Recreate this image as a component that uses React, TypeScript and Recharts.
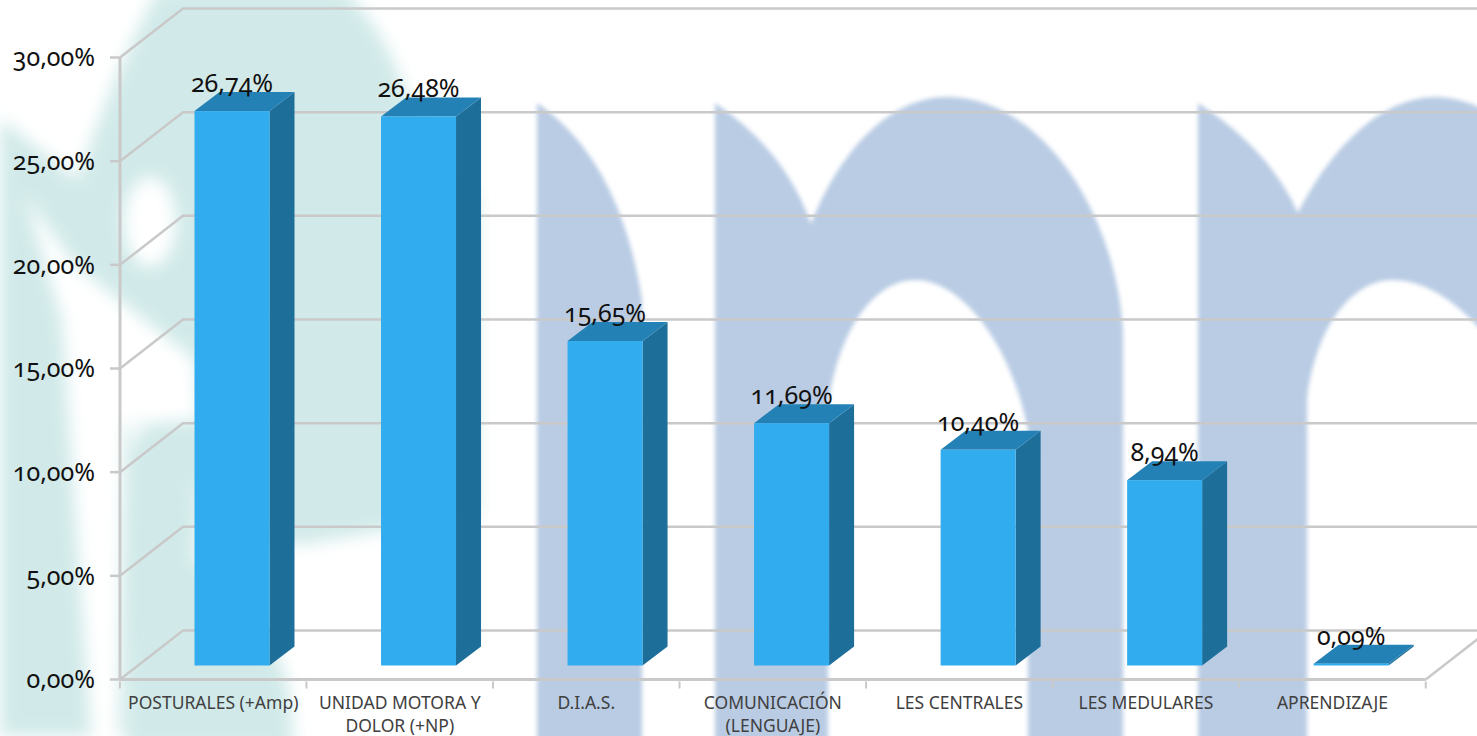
import { Bar, BarChart, CartesianGrid, LabelList, XAxis, YAxis } from "recharts";

const categories = [
  "POSTURALES (+Amp)",
  "UNIDAD MOTORA Y\nDOLOR (+NP)",
  "D.I.A.S.",
  "COMUNICACIÓN\n(LENGUAJE)",
  "LES CENTRALES",
  "LES MEDULARES",
  "APRENDIZAJE",
];
const percentages = [26.74, 26.48, 15.65, 11.69, 10.4, 8.94, 0.09];
const yTicks = [0, 5, 10, 15, 20, 25, 30];

const data = categories.map((name, i) => ({ name, value: percentages[i] }));

const FONT = '"Noto Sans", "Open Sans", sans-serif';
const GRID = "#c9c9c9";
const WALL_DX = 63;
const WALL_DY = -49;
const BAR_DX = 18.5;
const BAR_DY = -14;
const DEPTH_DX = 25;
const DEPTH_DY = -19;

const pct = (v: number) => `${v.toFixed(2).replace(".", ",")}%`;

function Box3D({ x, y, width, height }: any) {
  const l = x + BAR_DX;
  const r = l + width;
  const t = y + BAR_DY;
  const b = t + height;
  return (
    <g>
      <polygon
        points={`${r},${t} ${r + DEPTH_DX},${t + DEPTH_DY} ${r + DEPTH_DX},${b + DEPTH_DY} ${r},${b}`}
        fill="#1e6e9a"
      />
      <polygon
        points={`${l},${t} ${l + DEPTH_DX},${t + DEPTH_DY} ${r + DEPTH_DX},${t + DEPTH_DY} ${r},${t}`}
        fill="#2481b6"
      />
      <rect x={l} y={t} width={width} height={Math.max(height, 1.5)} fill="#31acee" />
    </g>
  );
}

function BarValue({ x, y, width, value }: any) {
  return (
    <text
      x={x + width / 2 + BAR_DX}
      y={y + BAR_DY - 19}
      textAnchor="middle"
      fontFamily={FONT}
      fontSize={25}
      fill="#111"
      style={{ fontVariantNumeric: "oldstyle-nums" }}
    >
      {pct(value)}
    </text>
  );
}

function WallLine({ x1, x2, y1 }: any) {
  return (
    <g stroke={GRID} strokeWidth={2.5} fill="none">
      <polyline points={`${x1},${y1} ${x1 + WALL_DX},${y1 + WALL_DY} ${x2 + WALL_DX},${y1 + WALL_DY}`} />
      {y1 > 600 && <line x1={x2} y1={y1} x2={x2 + WALL_DX} y2={y1 + WALL_DY} />}
    </g>
  );
}

function CategoryTick({ x, y, payload, index }: any) {
  const band = 186.67;
  const lines = String(payload.value).split("\n");
  return (
    <g>
      <line x1={x - band / 2} y1={y - 6} x2={x - band / 2} y2={y + 1} stroke={GRID} strokeWidth={2} />
      {index === categories.length - 1 && (
        <line x1={x + band / 2} y1={y - 6} x2={x + band / 2} y2={y + 1} stroke={GRID} strokeWidth={2} />
      )}
      <text textAnchor="middle" fontFamily={FONT} fontSize={17.5} fill="#404040">
        {lines.map((line, i) => (
          <tspan key={line} x={x} y={y + 21 + i * 23}>
            {line}
          </tspan>
        ))}
      </text>
    </g>
  );
}

function Watermark() {
  return (
    <svg width={1477} height={736} style={{ position: "absolute", left: 0, top: 0 }}>
      <defs>
        <filter id="soft" x="-10%" y="-10%" width="120%" height="120%">
          <feGaussianBlur stdDeviation="8" />
        </filter>
        <filter id="edge" x="-5%" y="-5%" width="110%" height="110%">
          <feGaussianBlur stdDeviation="2" />
        </filter>
      </defs>
      <g fill="#d1eaE9" filter="url(#soft)">
        <path d="M158,-10 L345,-10 Q392,40 405,95 Q440,130 478,200 L478,515 L300,545 L240,530 L190,480 L130,410 L125,736 L0,736 L0,118 L78,180 Q110,80 158,-10Z" />
        <path d="M127,470 Q135,420 165,418 L200,500 L195,560 Q240,590 275,650 Q295,690 293,750 L127,750Z" />
      </g>
      <g fill="#fff" filter="url(#soft)">
        <ellipse cx={150} cy={222} rx={26} ry={45} />
        <path d="M25,195 L75,265 L195,360 L200,420 L125,425 L118,750 L92,750 L62,320Z" />
      </g>
      <g fill="#b9cce4" filter="url(#edge)">
        <path d="M537,103 Q620,160 642,300 L642,750 L537,750Z" />
        <path d="M715,103 Q785,150 811,224 C840,150 890,97 947,97 C1040,97 1115,210 1123,330 L1123,750 L1028,750 L1028,430 C1010,340 960,280 915,280 C870,280 835,340 828,410 L828,750 L715,750Z" />
        <path d="M1198,103 Q1270,150 1298,213 C1330,150 1380,97 1436,97 Q1460,97 1490,112 L1490,340 Q1440,280 1393,280 C1350,280 1315,330 1307,400 L1307,750 L1198,750Z" />
      </g>
    </svg>
  );
}

export default function App() {
  return (
    <div style={{ position: "fixed", left: 0, top: 0, width: 1477, height: 736, overflow: "hidden", background: "#fff" }}>
      <Watermark />
      <div style={{ position: "absolute", left: 0, top: 0 }}>
        <BarChart
          width={1477}
          height={736}
          data={data}
          barSize={75}
          margin={{ top: 57.5, right: 51.3, bottom: 0, left: 0 }}
        >
          <CartesianGrid vertical={false} horizontal={(p: any) => <WallLine key={p.key} {...p} />} />
          <XAxis
            dataKey="name"
            axisLine={{ stroke: GRID, strokeWidth: 3 }}
            tickLine={false}
            interval={0}
            height={56.5}
            tick={<CategoryTick />}
          />
          <YAxis
            domain={[0, 30]}
            ticks={yTicks}
            width={120}
            tickSize={10}
            tickMargin={15}
            tickFormatter={pct}
            axisLine={{ stroke: GRID, strokeWidth: 3 }}
            tickLine={{ stroke: GRID, strokeWidth: 2.5 }}
            tick={{ fontFamily: FONT, fontSize: 25, fill: "#111", style: { fontVariantNumeric: "oldstyle-nums" } }}
          />
          <Bar dataKey="value" shape={<Box3D />} isAnimationActive={false}>
            <LabelList dataKey="value" content={<BarValue />} />
          </Bar>
        </BarChart>
      </div>
    </div>
  );
}
